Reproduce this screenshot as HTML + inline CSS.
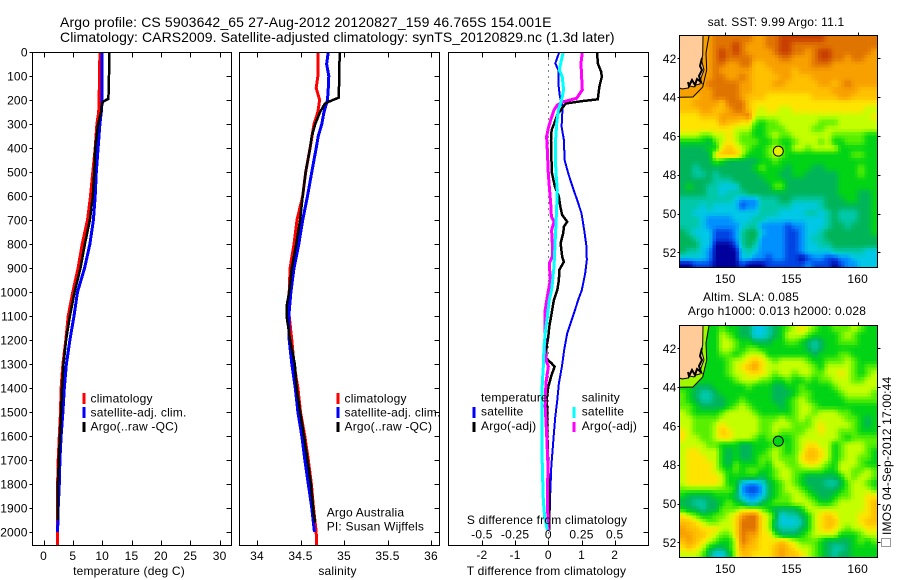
<!DOCTYPE html>
<html>
<head>
<meta charset="utf-8">
<title>Argo profile</title>
<style>
html,body{margin:0;padding:0;background:#fff;}
svg{display:block;}
text{font-family:"Liberation Sans",Arial,sans-serif;font-size:12px;fill:#000;letter-spacing:.2px;}
.ttl{font-size:14px;}
</style>
</head>
<body>
<svg id="chart" width="900" height="580" viewBox="0 0 900 580" xmlns="http://www.w3.org/2000/svg">
<defs>
<clipPath id="clipT"><rect x="32.5" y="52" width="199" height="493"/></clipPath>
<clipPath id="clipS"><rect x="239.5" y="52" width="200" height="493"/></clipPath>
<clipPath id="clipD"><rect x="448.5" y="52" width="200" height="493"/></clipPath>
</defs>
<rect x="0" y="0" width="900" height="580" fill="#fff"/>
<text class="ttl" style="letter-spacing:.13px" x="60" y="27">Argo profile: CS 5903642_65 27-Aug-2012 20120827_159 46.765S 154.001E</text>
<text class="ttl" style="letter-spacing:.08px" x="60" y="42">Climatology: CARS2009. Satellite-adjusted climatology: synTS_20120829.nc (1.3d later)</text>
<g id="layerMain"></g>
<g id="layerMaps"></g>
</svg>
<script>
// ---- profile data (depth in m, temperature in deg C, salinity in psu) ----
const depthTicks = [0,100,200,300,400,500,600,700,800,900,1000,1100,1200,1300,1400,1500,1600,1700,1800,1900,2000];
const tempTicks = [0,5,10,15,20,25,30];
const salTicks = [34,34.5,35,35.5,36];
const tDiffTicks = [-2,-1,0,1,2];
const sDiffTicks = [-0.5,-0.25,0,0.25,0.5];

const climTempDepth = [0,150,250,300,400,500,600,700,800,900,1000,1100,1200,1300,1400,1500,1600,1700,1800,1900,2055];
const climTempValue = [9.6,9.5,9.4,9.1,8.8,8.4,8.0,7.5,6.6,5.9,5.0,4.2,3.8,3.3,3.0,2.9,2.7,2.5,2.4,2.4,2.4];
const satTempDepth = [0,100,200,250,300,400,500,600,700,800,900,1000,1100,1200,1300,1400,1500,1600,1700,1800,1900,2000];
const satTempValue = [10.0,9.95,10.0,9.85,9.6,9.3,9.0,8.8,8.5,7.9,7.0,5.8,5.2,4.5,3.9,3.55,3.3,3.0,2.8,2.7,2.5,2.4];
const argoTempDepth = [0,100,195,205,215,250,300,400,500,600,700,800,900,1000,1100,1200,1300,1400,1500,1600,1700,1800,1900,1950];
const argoTempValue = [11.2,11.15,11.05,10.25,10.0,9.8,9.3,8.8,8.65,8.4,7.9,7.05,6.3,5.3,4.5,3.85,3.4,3.15,3.0,2.8,2.6,2.45,2.4,2.4];

const climSalDepth = [0,100,150,200,250,300,400,500,600,700,800,900,1000,1100,1200,1300,1400,1500,1600,1700,1800,1900,2000,2055];
const climSalValue = [34.70,34.70,34.68,34.72,34.70,34.655,34.61,34.56,34.525,34.46,34.425,34.38,34.37,34.37,34.40,34.425,34.47,34.50,34.55,34.59,34.625,34.65,34.68,34.685];
const satSalDepth = [0,50,100,150,200,250,300,350,400,500,600,700,800,900,1000,1100,1200,1300,1400,1500,1600,1700,1800,1900,2000];
const satSalValue = [34.82,34.80,34.825,34.82,34.81,34.77,34.745,34.705,34.68,34.63,34.58,34.525,34.48,34.425,34.39,34.365,34.37,34.40,34.44,34.47,34.515,34.55,34.59,34.63,34.66];
const argoSalDepth = [0,100,190,205,215,250,300,350,400,500,600,700,800,900,1000,1060,1100,1200,1300,1400,1500,1600,1700,1800,1900,1960];
const argoSalValue = [34.95,34.945,34.94,34.84,34.78,34.725,34.67,34.63,34.61,34.56,34.525,34.495,34.45,34.40,34.37,34.34,34.34,34.38,34.435,34.455,34.495,34.54,34.58,34.62,34.645,34.665];

const satTDiffDepth = [0,47,75,130,186,228,311,367,450,505,561,617,672,742,811,867,922,992,1033,1089,1172,1241,1311,1380,1450,1519,1589,1658,1727,1866,1991];
const satTDiffValue = [0.33,0.21,0.30,0.30,0.35,0.43,0.40,0.47,0.49,0.60,0.73,0.87,1.0,1.08,1.15,1.16,1.11,1.01,0.90,0.77,0.57,0.48,0.41,0.32,0.27,0.21,0.17,0.13,0.09,0.05,0.03];
const argoTDiffDepth = [0,47,82,103,144,197,204,214,235,262,297,325,367,436,505,561,603,644,679,707,728,755,797,853,874,908,950,992,1033,1089,1144,1186,1227,1276,1297,1311,1346,1394,1450,1491,1589,1727,1866,1991];
const argoTDiffValue = [1.47,1.49,1.59,1.61,1.54,1.49,1.05,0.53,0.41,0.27,0.18,0.10,0.08,0.09,0.11,0.20,0.32,0.36,0.42,0.57,0.47,0.45,0.37,0.42,0.47,0.33,0.32,0.27,0.17,0.10,0.03,0,-0.05,-0.07,0.10,0.19,0.10,0,-0.05,-0.03,-0.03,0,0.03,0.03];
const satSDiffDepth = [0,47,75,103,158,200,242,297,367,436,505,575,644,714,811,895,992,1033,1102,1172,1241,1311,1380,1450,1589,1727,1866,1936,1991];
const satSDiffValue = [0.113,0.093,0.083,0.105,0.115,0.10,0.075,0.063,0.055,0.053,0.058,0.068,0.063,0.058,0.05,0.043,0.025,0.0075,-0.0075,-0.023,-0.033,-0.038,-0.045,-0.048,-0.048,-0.045,-0.038,-0.028,-0.0075];
const argoSDiffDepth = [0,47,103,158,193,207,221,242,283,318,353,408,505,561,631,686,707,742,797,853,881,950,1019,1075,1172,1241,1290,1311,1380,1477,1589,1727,1866,1991];
const argoSDiffValue = [0.256,0.246,0.251,0.256,0.214,0.113,0.068,0.043,0.018,0,-0.013,-0.0075,0,0.0075,0.018,0.023,0.043,0.025,0.03,0.03,0.0075,0.015,-0.0075,-0.023,-0.025,-0.028,-0.013,0,-0.018,-0.023,-0.0125,-0.0025,-0.0075,0];

// ---- map data: colour level per 0.5 deg cell, north to south ----
const mapLonTicks = [150,155,160];
const mapLatTicks = [42,44,46,48,50,52];
const sstLevels = [
[11,11,11,11,11,12,12,12,12,12,12,11,11,12,12,13,13,13,13,13,13,13,12,12,12,12,12,12,12,12],
[11,11,11,11,11,12,12,12,13,12,11,11,11,12,12,13,13,12,12,12,12,12,12,12,12,12,12,12,12,12],
[11,11,11,11,11,12,13,12,13,12,11,11,11,11,12,13,13,12,12,11,12,13,13,12,12,12,12,12,12,11],
[11,11,11,11,11,12,13,12,12,12,12,11,11,11,11,12,12,11,11,11,12,13,13,12,12,11,12,12,11,11],
[11,11,11,11,11,12,12,11,11,12,12,10,10,11,11,11,11,11,11,11,12,12,12,11,11,11,11,11,11,11],
[11,11,11,11,11,12,11,11,11,11,11,10,10,10,11,11,11,10,11,11,11,11,11,11,11,11,11,11,11,11],
[11,11,11,11,11,12,12,11,11,12,11,10,10,10,10,11,11,10,10,10,11,11,11,11,11,11,11,11,11,11],
[11,11,11,11,12,12,12,12,12,11,11,10,10,10,11,11,10,10,10,10,10,11,11,10,11,12,11,11,11,11],
[11,11,11,11,11,12,12,12,12,11,11,10,10,10,10,10,10,10,10,10,10,10,10,11,11,11,11,10,10,10],
[10,10,10,11,11,12,12,12,12,11,10,10,10,9,9,9,9,9,9,9,10,10,10,10,11,11,10,10,10,10],
[10,10,11,11,11,11,10,12,12,12,10,9,9,9,9,9,9,9,9,9,9,9,9,9,9,9,9,9,9,9],
[10,10,10,11,11,10,10,11,12,12,10,9,8,9,9,8,8,9,9,9,9,9,9,9,9,9,9,9,8,8],
[9,9,9,10,10,10,11,11,11,11,12,8,8,8,8,8,8,8,8,8,8,8,8,8,8,8,8,8,8,9],
[9,9,9,9,9,9,11,10,10,9,9,7,6,7,7,8,8,8,8,8,8,7,7,7,8,8,8,8,8,8],
[9,9,9,9,9,9,9,9,8,8,8,6,6,7,7,7,8,8,8,8,7,7,8,8,8,8,8,8,8,8],
[8,8,8,7,7,8,8,9,8,7,7,6,6,7,8,7,7,8,8,8,8,8,8,7,7,7,7,7,6,6],
[6,6,6,6,5,7,8,9,8,7,7,7,6,6,7,6,6,7,8,8,8,7,8,6,6,7,7,7,6,6],
[5,5,5,5,6,6,9,10,9,8,7,6,6,7,8,7,6,8,8,7,8,8,8,8,6,6,6,6,6,6],
[5,5,5,5,5,9,10,10,10,8,6,6,6,7,8,7,6,6,6,6,6,6,6,6,6,6,7,7,6,6],
[5,5,5,5,5,7,6,5,5,5,5,5,6,6,7,6,6,6,6,6,6,6,6,6,6,6,6,6,6,6],
[5,5,4,5,5,5,5,5,5,5,5,6,7,6,6,6,5,6,6,6,5,5,6,6,6,6,6,7,6,6],
[5,5,4,4,5,4,5,5,5,5,5,5,6,6,6,5,5,6,6,5,5,5,5,5,6,6,6,7,6,6],
[5,5,5,5,5,4,4,4,5,5,5,5,5,6,6,6,5,5,5,5,5,5,5,5,6,6,6,6,6,6],
[5,6,5,5,4,4,3,3,3,5,5,5,5,5,7,7,5,5,5,5,5,5,5,5,6,6,6,6,6,6],
[5,5,5,5,4,4,3,4,4,4,5,5,5,5,5,5,5,5,5,5,5,5,5,5,6,6,6,5,5,6],
[4,4,4,4,4,4,4,4,3,2,2,2,4,4,4,5,5,4,4,4,4,4,5,5,5,6,6,5,5,6],
[4,4,4,3,4,3,3,3,3,1,2,2,4,4,4,4,4,3,3,3,3,4,5,5,5,5,5,5,5,6],
[4,4,3,3,3,3,3,3,3,3,3,3,4,4,4,3,3,3,3,4,4,3,4,5,4,4,4,5,5,6],
[4,4,4,3,2,2,2,2,3,3,3,4,4,3,3,3,3,3,3,3,3,3,4,5,4,4,4,5,5,6],
[4,4,4,3,2,2,2,2,2,3,4,4,2,2,2,2,1,2,2,3,3,3,4,5,5,4,5,5,5,6],
[5,4,3,3,3,1,1,1,2,4,5,5,3,2,2,2,1,1,2,3,3,4,5,5,5,5,5,5,5,6],
[5,5,4,3,3,1,1,1,2,4,5,5,2,2,2,2,1,1,2,3,4,4,5,5,5,5,5,5,5,5],
[5,5,5,3,3,0,0,0,1,4,5,4,2,2,2,2,1,1,2,3,3,4,4,5,5,5,5,5,5,5],
[5,4,4,3,2,0,0,0,0,3,4,3,2,2,2,2,1,1,2,3,3,3,3,4,4,4,4,4,3,3],
[3,3,3,3,2,0,0,0,0,3,3,2,2,1,2,2,1,1,0,1,2,2,1,1,2,2,3,3,3,3],
[0,0,1,1,1,0,0,0,0,1,0,0,0,1,1,1,1,1,1,2,1,1,1,0,1,2,2,3,3,3]
];
const slaLevels = [
[6,6,6,6,6,6,7,6,6,5,5,3,3,4,5,6,7,8,9,8,7,6,6,7,7,7,8,7,6,6],
[6,6,6,6,6,6,8,7,6,5,5,3,3,4,5,6,8,8,8,7,6,6,6,6,7,8,7,6,6,6],
[6,6,6,6,6,6,8,8,7,6,6,5,5,5,6,6,7,7,6,5,4,5,6,6,7,7,7,6,6,6],
[6,6,6,6,6,6,8,8,7,6,7,7,6,6,6,6,6,6,6,5,4,5,6,6,6,6,6,6,6,6],
[6,6,6,6,6,6,7,7,6,7,8,8,8,6,6,6,6,6,6,6,5,6,6,6,7,7,6,6,6,6],
[6,6,6,6,6,6,6,7,8,8,9,10,9,8,7,8,8,8,8,7,6,6,7,7,7,8,7,6,6,6],
[6,6,6,6,6,6,6,7,8,9,10,11,9,8,8,8,8,8,8,8,7,6,8,8,8,8,7,6,7,7],
[6,6,6,6,6,6,6,7,8,8,9,9,9,8,7,8,8,7,8,8,7,7,8,8,9,8,7,6,7,8],
[6,6,6,6,6,6,6,6,7,8,8,8,7,7,6,6,7,6,6,7,6,7,7,8,8,8,7,7,8,8],
[6,6,5,5,5,6,6,6,6,6,7,6,6,6,5,5,6,6,7,6,6,6,6,7,8,8,8,8,8,8],
[7,6,5,4,4,5,6,6,6,6,6,6,6,6,5,5,5,6,7,7,6,6,6,6,7,8,8,8,8,7],
[7,6,5,4,4,5,5,6,6,7,6,6,6,6,5,5,6,7,8,7,6,6,6,6,6,7,7,7,7,7],
[7,7,6,5,5,5,5,6,7,8,7,6,6,6,6,5,6,7,8,8,7,6,6,6,6,6,6,6,6,6],
[8,7,6,6,6,6,7,8,8,8,8,7,6,6,6,6,6,7,8,8,7,8,8,8,7,7,6,6,6,6],
[8,8,7,7,7,7,8,8,8,8,8,8,7,7,7,8,7,7,8,7,8,8,8,8,8,7,7,6,5,6],
[8,8,7,7,7,8,9,8,8,8,8,8,7,7,8,8,8,7,7,7,8,9,8,8,8,8,7,6,5,6],
[9,8,7,7,7,8,10,9,8,8,8,8,7,7,8,7,7,7,7,8,8,9,8,8,7,7,7,6,6,6],
[9,8,8,7,7,8,9,9,8,8,8,7,6,7,7,6,6,7,8,8,8,8,8,8,7,6,7,7,7,7],
[8,8,8,8,7,7,6,6,6,5,5,6,6,6,7,7,6,7,8,9,9,8,8,6,7,8,8,8,7,7],
[8,9,9,8,8,8,6,5,6,5,5,6,6,7,8,7,6,7,8,10,10,9,8,6,7,8,8,8,7,6],
[8,9,9,9,8,8,6,5,6,5,5,6,7,7,8,7,7,7,9,10,10,9,8,6,7,8,8,7,7,6],
[8,9,9,9,9,8,6,5,7,6,6,6,7,6,8,8,7,7,8,9,9,8,7,6,8,8,8,7,6,6],
[8,9,9,9,9,8,7,6,7,6,7,7,6,6,7,8,8,7,7,7,7,7,6,6,8,8,7,7,8,7],
[8,9,9,9,9,9,8,6,6,6,6,6,5,6,7,8,8,7,6,5,5,5,5,5,6,8,7,8,8,7],
[8,9,9,9,9,9,8,6,6,3,2,2,3,5,6,7,8,7,6,5,5,5,4,4,5,7,8,8,7,6],
[7,7,7,7,7,7,7,7,6,2,1,1,2,5,6,7,8,8,7,6,5,5,5,5,6,7,8,8,8,7],
[6,5,5,5,5,6,6,6,5,3,2,2,3,5,6,7,7,8,8,7,6,5,5,6,7,7,8,8,9,9],
[5,5,4,4,5,5,6,7,6,5,3,3,5,6,7,7,7,8,8,8,7,6,6,7,8,8,8,8,9,10],
[6,5,5,4,5,5,7,7,7,8,8,8,7,6,5,5,5,5,6,8,8,8,8,8,8,8,8,8,9,10],
[9,8,7,6,6,7,7,8,9,11,12,12,9,8,6,3,4,4,5,6,8,9,10,9,8,8,8,9,9,10],
[10,10,9,8,7,7,8,8,9,12,12,12,9,8,5,3,3,3,4,6,8,9,10,10,8,8,8,9,10,10],
[11,10,10,9,9,9,8,8,9,12,12,12,9,8,5,4,4,4,5,6,8,9,10,9,8,7,8,8,9,9],
[11,11,10,10,9,8,7,7,9,12,11,11,9,9,7,5,5,5,6,7,8,8,8,8,6,6,6,7,8,8],
[10,11,10,9,8,7,6,6,8,12,11,10,9,9,9,10,9,8,7,7,7,6,5,5,5,5,6,7,6,7],
[9,10,9,8,6,5,5,6,8,11,10,10,9,9,10,11,10,9,8,8,7,6,5,4,4,5,6,6,6,6],
[8,8,8,7,5,3,3,5,8,10,10,9,9,9,10,11,10,10,9,8,7,6,5,4,5,5,6,6,6,6]
];
const levelColors = [[0,0,156],[0,68,228],[0,144,255],[0,200,230],[0,200,168],[0,180,90],[0,212,20],[88,240,0],[196,255,0],[255,228,0],[255,192,0],[248,160,0],[224,116,0],[200,64,0]];

// ---- scales ----
const yDepth = d => 52 + d * 0.24;
const xTemp = v => 43.5 + v * 5.87;
const xSal = v => 257 + (v - 34) * 87;
const xTDiff = v => 548.3 + v * 33.2;
const xSDiff = v => 548.3 + v * 132.8;
const xLon = lon => 725.3 + (lon - 150) * 13.24;
const yLat = lat => 58.3 + (lat - 42) * 19.4;

const NS = 'http://www.w3.org/2000/svg';
const main = document.getElementById('layerMain');
const maps = document.getElementById('layerMaps');

function line(parent, x1, y1, x2, y2, color, width, name) {
  const el = document.createElementNS(NS, 'line');
  el.setAttribute('x1', x1);
  el.setAttribute('y1', y1);
  el.setAttribute('x2', x2);
  el.setAttribute('y2', y2);
  el.setAttribute('stroke', color);
  el.setAttribute('stroke-width', width);
  el.setAttribute('shape-rendering', 'crispEdges');
  
  
  parent.appendChild(el);
  return el;
}
function label(parent, x, y, str, anchor, name) {
  const el = document.createElementNS(NS, 'text');
  el.setAttribute('x', x);
  el.setAttribute('y', y);
  el.setAttribute('text-anchor', anchor);
  el.textContent = str;
  
  
  parent.appendChild(el);
  return el;
}
function series(depths, values, xFn, color, width, clip, name) {
  const el = document.createElementNS(NS, 'polyline');
  el.setAttribute('points', depths.map((d, i) => xFn(values[i]).toFixed(1) + ',' + yDepth(d).toFixed(1)).join(' '));
  el.setAttribute('fill', 'none');
  el.setAttribute('stroke', color);
  el.setAttribute('stroke-width', width);
  el.setAttribute('clip-path', 'url(#' + clip + ')');
  el.setAttribute('shape-rendering', 'crispEdges');
  
  
  main.appendChild(el);
}
function frame(parent, x0, y0, x1, y1, name) {
  const el = document.createElementNS(NS, 'rect');
  el.setAttribute('x', x0);
  el.setAttribute('y', y0);
  el.setAttribute('width', x1 - x0);
  el.setAttribute('height', y1 - y0);
  el.setAttribute('fill', 'none');
  el.setAttribute('stroke', '#000');
  el.setAttribute('stroke-width', 1);
  el.setAttribute('shape-rendering', 'crispEdges');
  
  
  parent.appendChild(el);
}

// ---- profile panels ----
const L1 = 32.5, R1 = 231.5, L2 = 239.5, R2 = 439.5, L3 = 448.5, R3 = 648.5, TOP = 52.5, BOT = 545.5;

depthTicks.forEach(d => {
  const y = Math.round(yDepth(d)) + 0.5;
  label(main, 27.7, yDepth(d) + 4.5, String(d), 'end', 'y-tick-label-' + d);
  line(main, L1 - 3, y, L1, y, '#000', 1, 'y-tick-left-' + d);
  line(main, R1 - 5, y, R1, y, '#000', 1, 'y-tick-right-' + d);
  line(main, R2 - 5, y, R2, y, '#000', 1, 'salinity-y-tick-' + d);
  line(main, R3 - 5, y, R3, y, '#000', 1, 'diff-y-tick-' + d);
});
tempTicks.forEach(v => {
  const x = Math.round(xTemp(v)) + 0.5;
  line(main, x, TOP, x, TOP + 5, '#000', 1, 'temp-top-tick-' + v);
  line(main, x, BOT - 5, x, BOT, '#000', 1, 'temp-bottom-tick-' + v);
  label(main, xTemp(v), 560, String(v), 'middle', 'temp-tick-label-' + v);
});
salTicks.forEach(v => {
  const x = Math.round(xSal(v)) + 0.5;
  line(main, x, TOP, x, TOP + 5, '#000', 1, 'sal-top-tick-' + v);
  line(main, x, BOT - 5, x, BOT, '#000', 1, 'sal-bottom-tick-' + v);
  label(main, xSal(v), 560, String(v), 'middle', 'sal-tick-label-' + v);
});
tDiffTicks.forEach(v => {
  const x = Math.round(xTDiff(v)) + 0.5;
  line(main, x, TOP, x, TOP + 5, '#000', 1, 'tdiff-top-tick-' + v);
  line(main, x, BOT - 5, x, BOT, '#000', 1, 'tdiff-bottom-tick-' + v);
  label(main, xTDiff(v), 559, String(v), 'middle', 'tdiff-tick-label-' + v);
});
sDiffTicks.forEach(v => {
  label(main, xSDiff(v), 538.7, String(v), 'middle', 'sdiff-tick-label-' + v);
});

const zeroLine = line(main, Math.round(xTDiff(0)) + 0.5, TOP, Math.round(xTDiff(0)) + 0.5, BOT, '#000', 1, 'zero-reference-line');
zeroLine.setAttribute('stroke-dasharray', '1 5');

series(climTempDepth, climTempValue, xTemp, '#ff0000', 3, 'clipT', 'temperature-climatology-line');
series(satTempDepth, satTempValue, xTemp, '#0000ff', 3, 'clipT', 'temperature-satellite-line');
series(argoTempDepth, argoTempValue, xTemp, '#000000', 2.5, 'clipT', 'temperature-argo-line');
series(climSalDepth, climSalValue, xSal, '#ff0000', 3, 'clipS', 'salinity-climatology-line');
series(satSalDepth, satSalValue, xSal, '#0000ff', 3, 'clipS', 'salinity-satellite-line');
series(argoSalDepth, argoSalValue, xSal, '#000000', 2.5, 'clipS', 'salinity-argo-line');
series(satTDiffDepth, satTDiffValue, xTDiff, '#0000ff', 2, 'clipD', 'tdiff-satellite-line');
series(argoTDiffDepth, argoTDiffValue, xTDiff, '#000000', 2.5, 'clipD', 'tdiff-argo-line');
series(argoSDiffDepth, argoSDiffValue, xSDiff, '#ff00ff', 3, 'clipD', 'sdiff-argo-line');
series(satSDiffDepth, satSDiffValue, xSDiff, '#00ffff', 3, 'clipD', 'sdiff-satellite-line');

frame(main, L1, TOP, R1, BOT, 'temperature-axes-frame');
frame(main, L2, TOP, R2, BOT, 'salinity-axes-frame');
frame(main, L3, TOP, R3, BOT, 'difference-axes-frame');

label(main, 129, 575, 'temperature (deg C)', 'middle', 'temperature-axis-title');
label(main, 337.5, 575, 'salinity', 'middle', 'salinity-axis-title');
label(main, 546.5, 575, 'T difference from climatology', 'middle', 't-difference-axis-title');
label(main, 547, 524, 'S difference from climatology', 'middle', 's-difference-axis-title');
label(main, 326.7, 516.7, 'Argo Australia', 'start', 'credit-argo-australia');
label(main, 326.7, 530.7, 'PI: Susan Wijffels', 'start', 'credit-pi');

// legends
line(main, 84, 393, 84, 404, '#ff0000', 3, 'legend-swatch-climatology');
line(main, 84, 407, 84, 418, '#0000ff', 3, 'legend-swatch-satellite');
line(main, 84, 422, 84, 432, '#000000', 3, 'legend-swatch-argo');
label(main, 90.5, 402.7, 'climatology', 'start', 'legend-entry-climatology');
label(main, 90.5, 416.7, 'satellite-adj. clim.', 'start', 'legend-entry-satellite');
label(main, 90.5, 430.7, 'Argo(..raw -QC)', 'start', 'legend-entry-argo');
line(main, 338, 393, 338, 404, '#ff0000', 3, 'salinity-legend-swatch-climatology');
line(main, 338, 407, 338, 418, '#0000ff', 3, 'salinity-legend-swatch-satellite');
line(main, 338, 422, 338, 432, '#000000', 3, 'salinity-legend-swatch-argo');
label(main, 344.5, 402.7, 'climatology', 'start', 'salinity-legend-entry-climatology');
label(main, 344.5, 416.7, 'satellite-adj. clim.', 'start', 'salinity-legend-entry-satellite');
label(main, 344.5, 430.7, 'Argo(..raw -QC)', 'start', 'salinity-legend-entry-argo');
label(main, 481, 401.7, 'temperature', 'start', 'diff-legend-heading-temperature');
line(main, 474, 407, 474, 418, '#0000ff', 3, 'diff-legend-swatch-t-satellite');
line(main, 474, 422, 474, 432, '#000000', 3, 'diff-legend-swatch-t-argo');
label(main, 481, 415.7, 'satellite', 'start', 'diff-legend-entry-t-satellite');
label(main, 481, 430, 'Argo(-adj)', 'start', 'diff-legend-entry-t-argo');
label(main, 581.7, 401.7, 'salinity', 'start', 'diff-legend-heading-salinity');
line(main, 574, 407, 574, 418, '#00ffff', 3, 'diff-legend-swatch-s-satellite');
line(main, 574, 422, 574, 432, '#ff00ff', 3, 'diff-legend-swatch-s-argo');
label(main, 581.7, 415.7, 'satellite', 'start', 'diff-legend-entry-s-satellite');
label(main, 581.7, 430, 'Argo(-adj)', 'start', 'diff-legend-entry-s-argo');

// ---- maps ----
const MAP_L = 679.5, MAP_R = 877.5, MAP_T = 35.5, MAP_B = 267.5;
const SUBCELLS = 2;
function levelAt(levels, rf, cf) {
  const nR = levels.length, nC = levels[0].length;
  const r = Math.max(0, Math.min(nR - 1, rf));
  const c = Math.max(0, Math.min(nC - 1, cf));
  const r0 = Math.floor(r), c0 = Math.floor(c);
  const r1 = Math.min(nR - 1, r0 + 1), c1 = Math.min(nC - 1, c0 + 1);
  const a = r - r0, b = c - c0;
  return (levels[r0][c0] * (1 - b) + levels[r0][c1] * b) * (1 - a) + (levels[r1][c0] * (1 - b) + levels[r1][c1] * b) * a;
}
function levelColor(v) {
  const top = levelColors.length - 1;
  const t = Math.max(0, Math.min(top, v));
  const i = Math.min(top - 1, Math.floor(t));
  const f = t - i;
  const c = [0, 1, 2].map(k => Math.round(levelColors[i][k] * (1 - f) + levelColors[i + 1][k] * f));
  return 'rgb(' + c.join(',') + ')';
}
function drawMap(levels, dy, mapName, markerFill, coastFill) {
  const g = document.createElementNS(NS, 'g');
  g.setAttribute('transform', 'translate(0,' + dy + ')');
  
  
  maps.appendChild(g);
  const nRows = levels.length * SUBCELLS;
  const nCols = levels[0].length * SUBCELLS;
  const cw = (MAP_R - MAP_L) / nCols;
  const ch = (MAP_B - MAP_T) / nRows;
  for (let r = 0; r < nRows; r++) {
    for (let c = 0; c < nCols; c++) {
      const v = levelAt(levels, (r + 0.5) / SUBCELLS - 0.5, (c + 0.5) / SUBCELLS - 0.5);
      const cell = document.createElementNS(NS, 'rect');
      cell.setAttribute('x', (MAP_L + c * cw).toFixed(2));
      cell.setAttribute('y', (MAP_T + r * ch).toFixed(2));
      cell.setAttribute('width', (cw + 0.5).toFixed(2));
      cell.setAttribute('height', (ch + 0.5).toFixed(2));
      cell.setAttribute('fill', levelColor(v));
      cell.setAttribute('shape-rendering', 'crispEdges');
      
      
      g.appendChild(cell);
    }
  }
  // ocean strip between the coast and the outer contour
  const strip = document.createElementNS(NS, 'polygon');
  strip.setAttribute('points', '679.5,35.5 709,35.5 706,53 706.7,70 702.7,87 693,97 679.5,97.3');
  strip.setAttribute('fill', coastFill);
  
  
  g.appendChild(strip);
  const land = document.createElementNS(NS, 'polygon');
  land.setAttribute('points', '679.5,35.5 703,35.5 702.7,55 701.5,60 704,70 701,78 700,84 696,85 694,87 690,86 688,88 682,89 679.5,88');
  land.setAttribute('fill', '#ffcc99');
  
  
  g.appendChild(land);
  const coast = document.createElementNS(NS, 'polyline');
  coast.setAttribute('points', '703,35.5 702.7,55 701.5,60 704,70 701,78 700,84 696,85 694,87 690,86 688,88 682,89 679.5,88');
  coast.setAttribute('fill', 'none');
  coast.setAttribute('stroke', '#000');
  coast.setAttribute('stroke-width', 1);
  
  
  g.appendChild(coast);
  const bay = document.createElementNS(NS, 'polyline');
  bay.setAttribute('points', '702,58 700,66 702,70 699,76 701,82 697,79 695,85 692,80 689,86 688,82');
  bay.setAttribute('fill', 'none');
  bay.setAttribute('stroke', '#000');
  bay.setAttribute('stroke-width', 2);
  
  
  g.appendChild(bay);
  const topo = document.createElementNS(NS, 'polyline');
  topo.setAttribute('points', '709,35.5 706,53 706.7,70 702.7,87 693,97 679.5,97.3');
  topo.setAttribute('fill', 'none');
  topo.setAttribute('stroke', '#000');
  topo.setAttribute('stroke-width', 1);
  
  
  g.appendChild(topo);
  frame(g, MAP_L, MAP_T, MAP_R, MAP_B, mapName + '-frame');
  mapLonTicks.forEach(lon => {
    const x = Math.round(xLon(lon)) + 0.5;
    line(g, x, MAP_T - 3, x, MAP_T, '#000', 1, mapName + '-top-tick-' + lon);
    label(g, xLon(lon), MAP_B + 15.5, String(lon), 'middle', mapName + '-lon-label-' + lon);
  });
  mapLatTicks.forEach(lat => {
    const y = Math.round(yLat(lat)) + 0.5;
    line(g, MAP_L - 2, y, MAP_L, y, '#000', 1, mapName + '-left-tick-' + lat);
    line(g, MAP_R, y, MAP_R + 3, y, '#000', 1, mapName + '-right-tick-' + lat);
    label(g, MAP_L - 3, yLat(lat) + 4.5, String(lat), 'end', mapName + '-lat-label-' + lat);
  });
  const marker = document.createElementNS(NS, 'circle');
  marker.setAttribute('cx', xLon(154.001));
  marker.setAttribute('cy', yLat(46.765) + 0.4);
  marker.setAttribute('r', 5);
  marker.setAttribute('fill', markerFill);
  marker.setAttribute('stroke', '#000');
  marker.setAttribute('stroke-width', 1);
  
  
  g.appendChild(marker);
}
drawMap(sstLevels, 0, 'sst-map', '#e4f000', '#f8a000');
drawMap(slaLevels, 290, 'sla-map', '#00d414', '#a0f800');

label(maps, 776, 26, 'sat. SST: 9.99 Argo: 11.1', 'middle', 'sst-map-title');
label(maps, 751, 301, 'Altim. SLA: 0.085', 'middle', 'sla-map-title');
label(maps, 777, 315, 'Argo h1000: 0.013 h2000: 0.028', 'middle', 'sla-map-subtitle');

const stamp = label(maps, 0, 0, 'IMOS 04-Sep-2012 17:00:44', 'start', 'timestamp-label');
stamp.setAttribute('transform', 'translate(891,535) rotate(-90)');
const stampBox = document.createElementNS(NS, 'rect');
stampBox.setAttribute('x', 881.5);
stampBox.setAttribute('y', 538.5);
stampBox.setAttribute('width', 9);
stampBox.setAttribute('height', 8);
stampBox.setAttribute('fill', 'none');
stampBox.setAttribute('stroke', '#333');
stampBox.setAttribute('stroke-dasharray', '1 1');
stampBox.setAttribute('shape-rendering', 'crispEdges');


maps.appendChild(stampBox);
</script>
</body>
</html>
